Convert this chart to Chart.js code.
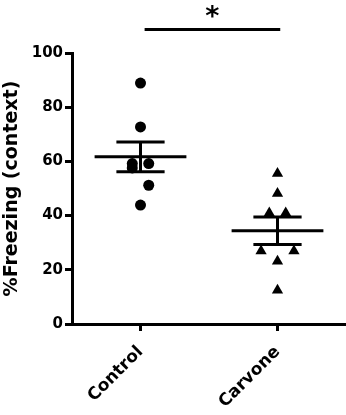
<!DOCTYPE html>
<html lang="en">
<head>
<meta charset="UTF-8">
<title>%Freezing (context)</title>
<script src="https://cdn.jsdelivr.net/npm/chart.js"></script>
<style>
  body { margin: 0; background: #fff; }
  canvas { display: block; }
</style>
</head>
<body>
<canvas id="freezingChart" width="346" height="415"></canvas>
<script>
// values (x = group position, jittered like the original dots)
const groups = ['Control', 'Carvone'];
const controlX = [1, 1, 0.94, 0.94, 1.06, 1.06, 1];
const controlY = [88.9, 72.7, 59.2, 57.6, 59.2, 51.2, 43.9];
const carvoneX = [2, 2, 1.94, 2.06, 1.88, 2.12, 2, 2];
const carvoneY = [55.5, 48.2, 41.0, 41.0, 26.9, 26.9, 23.2, 12.5];
const means = [61.7, 34.4];
const sems = [5.5, 5.1];
const yTicks = [0, 20, 40, 60, 80, 100];
const sig = { from: 1.03, to: 2.02, y: 108.7, starY: 110.2, label: '*' };

const FONT = '"DejaVu Sans", "Liberation Sans", Arial, sans-serif';
const MEAN_HALF = 0.335;
const CAP_HALF = 0.176;

function toPoints(xs, ys) {
    return xs.map((x, i) => ({ x: x, y: ys[i] }));
}

function segment(x1, y1, x2, y2) {
    return {
        data: [{ x: x1, y: y1 }, { x: x2, y: y2 }],
        showLine: true,
        borderColor: '#000',
        borderWidth: 3,
        borderCapStyle: 'butt',
        pointRadius: 0,
        clip: false
    };
}

const datasets = [
    {
        data: toPoints(controlX, controlY),
        pointStyle: 'circle',
        pointRadius: 5.5,
        backgroundColor: '#000',
        borderWidth: 0
    },
    {
        data: toPoints(carvoneX, carvoneY),
        pointStyle: 'triangle',
        pointRadius: 6.5,
        backgroundColor: '#000',
        borderWidth: 0
    }
];

// mean line + SEM bars for each group
groups.forEach((g, i) => {
    const cx = i + 1;
    const m = means[i], s = sems[i];
    datasets.push(segment(cx - MEAN_HALF, m, cx + MEAN_HALF, m));
    datasets.push(segment(cx, m - s, cx, m + s));
    datasets.push(segment(cx - CAP_HALF, m + s, cx + CAP_HALF, m + s));
    datasets.push(segment(cx - CAP_HALF, m - s, cx + CAP_HALF, m - s));
});

const sigPlugin = {
    id: 'sig',
    afterDatasetsDraw(chart) {
        const { ctx, scales: { x, y } } = chart;
        const py = y.getPixelForValue(sig.y);
        ctx.save();
        ctx.strokeStyle = '#000';
        ctx.lineWidth = 3;
        ctx.beginPath();
        ctx.moveTo(x.getPixelForValue(sig.from), py);
        ctx.lineTo(x.getPixelForValue(sig.to), py);
        ctx.stroke();
        ctx.fillStyle = '#000';
        ctx.font = 'bold 27px ' + FONT;
        ctx.textAlign = 'center';
        ctx.textBaseline = 'alphabetic';
        ctx.fillText(sig.label, x.getPixelForValue((sig.from + sig.to) / 2), y.getPixelForValue(sig.starY));
        ctx.restore();
    }
};

Chart.defaults.font.family = FONT;
Chart.defaults.font.weight = 'bold';
Chart.defaults.color = '#000';

new Chart(document.getElementById('freezingChart'), {
    type: 'scatter',
    data: { datasets: datasets },
    options: {
        responsive: false,
        animation: false,
        layout: { autoPadding: false, padding: { top: 53, right: 0, bottom: 0, left: 0 } },
        plugins: { legend: { display: false }, tooltip: { enabled: false } },
        scales: {
            x: {
                type: 'linear',
                min: 0.5,
                max: 2.5,
                afterFit: (scale) => { scale.height = 91; },
                afterBuildTicks: (scale) => { scale.ticks = groups.map((g, i) => ({ value: i + 1 })); },
                border: { display: true, color: '#000', width: 3 },
                grid: { drawOnChartArea: false, drawTicks: true, tickLength: 7, tickWidth: 3, tickColor: '#000' },
                ticks: {
                    autoSkip: false,
                    minRotation: 45,
                    maxRotation: 45,
                    padding: 11,
                    font: { size: 17, weight: 'bold' },
                    callback: (v) => groups[v - 1]
                }
            },
            y: {
                min: 0,
                max: 100,
                afterFit: (scale) => { scale.width = 72; },
                afterBuildTicks: (scale) => { scale.ticks = yTicks.map(v => ({ value: v })); },
                border: { display: true, color: '#000', width: 3 },
                grid: { drawOnChartArea: false, drawTicks: true, tickLength: 7, tickWidth: 3, tickColor: '#000' },
                ticks: { padding: 2, font: { size: 15, weight: 'bold' } },
                title: {
                    display: true,
                    text: '%Freezing (context)',
                    font: { size: 19, weight: 'bold' },
                    padding: { top: 1, bottom: 0 }
                }
            }
        }
    },
    plugins: [sigPlugin]
});
</script>
</body>
</html>
